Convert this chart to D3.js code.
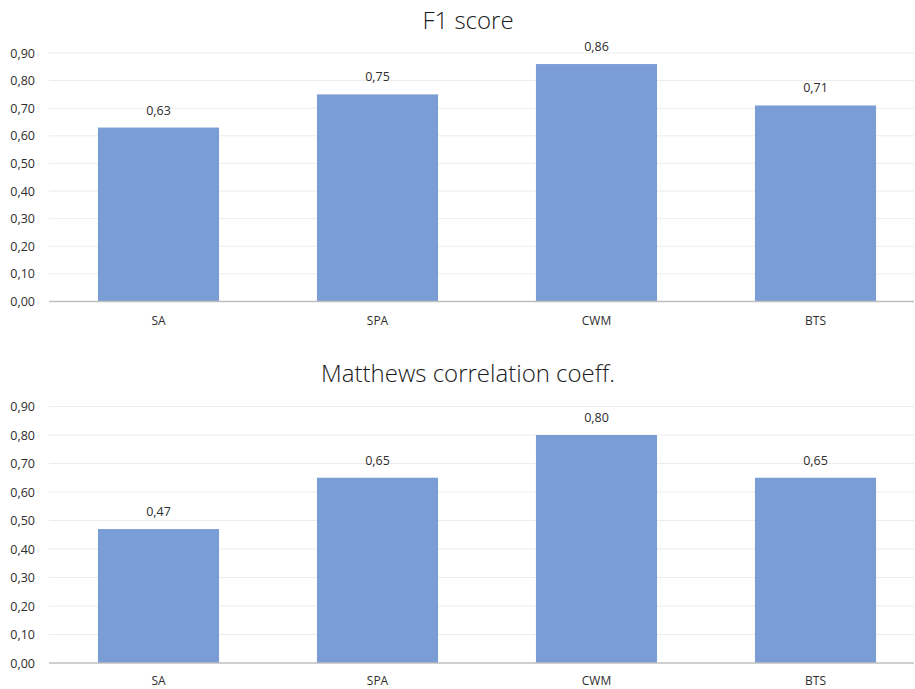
<!DOCTYPE html>
<html>
<head>
<meta charset="utf-8">
<script src="https://cdn.jsdelivr.net/npm/d3@7/dist/d3.min.js"></script>
<style>
html,body{margin:0;padding:0;background:#fff;}
svg{display:block;font-family:"Open Sans",sans-serif;}
</style>
</head>
<body>
<svg id="chart" width="915" height="689"></svg>
<script>
const categories = ["SA", "SPA", "CWM", "BTS"];
const f1Values = [0.63, 0.75, 0.86, 0.71];
const mccValues = [0.47, 0.65, 0.80, 0.65];
const yTicks = [0, 0.1, 0.2, 0.3, 0.4, 0.5, 0.6, 0.7, 0.8, 0.9];
const titles = ["F1 score", "Matthews correlation coeff."];

const locale = d3.formatLocale({decimal: ",", thousands: ".", grouping: [3], currency: ["", "€"]});
const fmt = locale.format(".2f");

const svg = d3.select("#chart");

const panels = [
  {title: titles[0], values: f1Values, titleY: 29, top: 53, bottom: 301.5, catY: 325},
  {title: titles[1], values: mccValues, titleY: 382, top: 406.5, bottom: 663, catY: 685}
];

const left = 49, right = 914;

panels.forEach(p => {
  const g = svg.append("g");
  const x = d3.scaleBand().domain(categories).range([left, left + 876]).paddingInner(0.447).paddingOuter(0.2235);
  const y = d3.scaleLinear().domain([0, 0.9]).range([p.bottom, p.top]);

  g.append("text").attr("x", 468).attr("y", p.titleY).attr("text-anchor", "middle")
    .attr("font-size", 24).attr("font-weight", 300).attr("fill", "#1a1a1a").text(p.title);

  // gridlines
  g.selectAll(".grid").data(yTicks.filter(t => t > 0)).enter().append("line")
    .attr("x1", left).attr("x2", right)
    .attr("y1", d => y(d)).attr("y2", d => y(d))
    .attr("stroke", "#ececec").attr("stroke-width", 1);

  // y tick labels
  g.selectAll(".yt").data(yTicks).enter().append("text")
    .attr("x", 35).attr("y", d => y(d) + 4.5).attr("text-anchor", "end")
    .attr("font-size", 12.5).attr("fill", "#2e2e2e").text(d => fmt(d));

  // bars
  g.selectAll(".bar").data(p.values).enter().append("rect")
    .attr("x", (d, i) => x(categories[i])).attr("width", x.bandwidth())
    .attr("y", d => y(d)).attr("height", d => y(0) - y(d))
    .attr("fill", "#7b9dd6");

  // axis line
  g.append("line").attr("x1", left).attr("x2", right)
    .attr("y1", y(0)).attr("y2", y(0)).attr("stroke", "#bfbfbf").attr("stroke-width", 1.5);

  // value labels
  g.selectAll(".vl").data(p.values).enter().append("text")
    .attr("x", (d, i) => x(categories[i]) + x.bandwidth() / 2)
    .attr("y", d => y(d) - 13).attr("text-anchor", "middle")
    .attr("font-size", 12.5).attr("fill", "#2e2e2e").text(d => fmt(d));

  // category labels
  g.selectAll(".cl").data(categories).enter().append("text")
    .attr("x", d => x(d) + x.bandwidth() / 2).attr("y", p.catY).attr("text-anchor", "middle")
    .attr("font-size", 12).attr("fill", "#2e2e2e").text(d => d);
});
</script>
</body>
</html>
